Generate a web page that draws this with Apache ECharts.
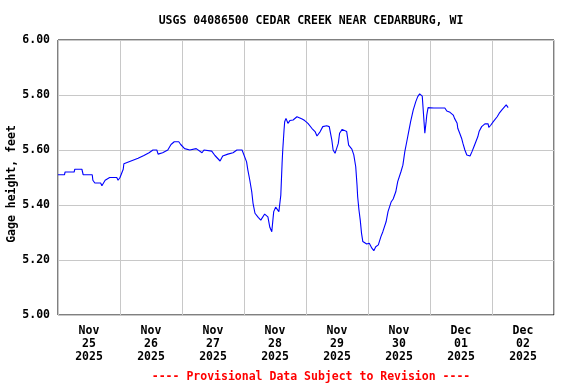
<!DOCTYPE html>
<html>
<head>
<meta charset="utf-8">
<script src="https://cdn.jsdelivr.net/npm/echarts@6/dist/echarts.min.js"></script>
<style>html,body{margin:0;padding:0;background:#fff}#c{width:576px;height:384px}</style>
</head>
<body>
<div id="c"></div>
<script>
// Hours since 2025-11-25 00:00 (local) and gage height in feet
const hours = [0,2.5,2.75,6.25,6.5,9.25,9.75,13.25,13.5,14.25,16.5,17,18.25,20,22.75,23.25,24,25.25,25.5,28.25,31,33.25,35.25,36.75,38.25,38.75,39.5,40.5,42.5,43.75,45,46.75,47.5,49,51,53.5,55.75,56.5,59.5,60.75,62.75,63.75,65.75,67.75,69.25,71.25,72,73,73.5,74.25,75,75.5,76.25,77.5,78.5,80,81.25,82,82.75,83.5,84.25,85.5,86.25,86.75,87,87.5,87.75,88.25,89,89.75,91,92.5,93.25,94.5,95.5,96.75,98.25,99.5,100.25,101.5,102.5,104,105,106,106.5,107.25,108,108.5,109,110,110.75,111.75,112.5,113.75,114.5,115.25,115.75,116,116.5,117,117.5,118,119.5,120.5,121.5,122.25,123,124,125,125.75,127,127.75,129,129.75,130.75,131.5,132.75,133.5,134.25,135,135.75,136.5,137.5,138.5,139.25,140,141,141.75,142,142.5,142.75,143.25,144,145.5,146,149.75,150.25,150.5,151.75,153,153.5,154.5,154.75,155.5,156.25,156.75,157.5,158.25,159.5,160.25,161,161.75,162.5,163,164,165.25,166.5,166.75,167.5,168.5,169,170,170.75,171.75,172.5,173.5,173.75,174.25];
const gage = [5.51,5.51,5.52,5.52,5.53,5.53,5.51,5.51,5.49,5.48,5.48,5.47,5.49,5.50,5.50,5.49,5.50,5.53,5.55,5.56,5.57,5.58,5.59,5.60,5.60,5.585,5.59,5.59,5.60,5.62,5.63,5.63,5.62,5.605,5.60,5.605,5.59,5.60,5.596,5.58,5.56,5.578,5.585,5.59,5.60,5.60,5.594,5.557,5.527,5.49,5.448,5.406,5.37,5.355,5.345,5.367,5.357,5.319,5.303,5.376,5.392,5.376,5.436,5.553,5.60,5.673,5.703,5.715,5.697,5.707,5.709,5.721,5.727,5.713,5.707,5.697,5.679,5.667,5.651,5.667,5.685,5.688,5.685,5.636,5.60,5.588,5.59,5.624,5.661,5.675,5.679,5.667,5.618,5.603,5.582,5.539,5.473,5.43,5.382,5.345,5.297,5.267,5.258,5.261,5.243,5.234,5.248,5.255,5.285,5.303,5.339,5.376,5.412,5.422,5.448,5.485,5.521,5.545,5.594,5.63,5.667,5.703,5.745,5.776,5.794,5.804,5.796,5.796,5.661,5.703,5.727,5.754,5.749,5.753,5.749,5.753,5.749,5.742,5.737,5.727,5.715,5.697,5.679,5.661,5.642,5.624,5.60,5.582,5.578,5.594,5.612,5.63,5.648,5.667,5.685,5.695,5.695,5.682,5.69,5.703,5.709,5.721,5.733,5.745,5.749,5.764,5.758,5.754];
const dayLabels = ["Nov\n25\n2025","Nov\n26\n2025","Nov\n27\n2025","Nov\n28\n2025","Nov\n29\n2025","Nov\n30\n2025","Dec\n01\n2025","Dec\n02\n2025"];
const titleText = "USGS 04086500 CEDAR CREEK NEAR CEDARBURG, WI";
const yTitle = "Gage height, feet";
const footer = "---- Provisional Data Subject to Revision ----";

const FONT = "DejaVu Sans Mono";
const chart = echarts.init(document.getElementById('c'), null, {renderer: 'canvas'});
chart.setOption({
  animation: false,
  backgroundColor: '#ffffff',
  title: [
    {text: titleText, left: 306, top: 10, textAlign: 'center',
     textStyle: {fontFamily: FONT, fontSize: 11.5, fontWeight: 'bold', color: '#000'}},
    {text: footer, left: 306, top: 366, textAlign: 'center',
     textStyle: {fontFamily: FONT, fontSize: 11.5, fontWeight: 'bold', color: '#ff0000'}}
  ],
  graphic: [{
    type: 'text', x: 12, y: 184, rotation: Math.PI / 2,
    style: {text: yTitle, align: 'center', verticalAlign: 'middle',
            font: 'bold 11.5px "DejaVu Sans Mono"', fill: '#000'}
  }],
  grid: {left: 58, top: 40, right: 22, bottom: 69, show: true, borderColor: '#000', borderWidth: 1,
         backgroundColor: 'transparent', containLabel: false, outerBoundsMode: 'none'},
  xAxis: [
    {type: 'value', min: 0, max: 192, interval: 24,
     axisLine: {show: false}, axisTick: {show: false}, axisLabel: {show: false},
     splitLine: {show: true, lineStyle: {color: '#c8c8c8', width: 1}}},
    {type: 'category', data: dayLabels, boundaryGap: true, position: 'bottom',
     axisLine: {show: false}, axisTick: {show: false}, splitLine: {show: false},
     axisLabel: {fontFamily: FONT, fontSize: 11.5, fontWeight: 'bold', color: '#000', lineHeight: 13, margin: 10, interval: 0}}
  ],
  yAxis: {type: 'value', min: 5, max: 6, interval: 0.2,
    axisLine: {show: false}, axisTick: {show: false},
    axisLabel: {fontFamily: FONT, fontSize: 11.5, fontWeight: 'bold', color: '#000', margin: 8,
      formatter: v => v.toFixed(2)},
    splitLine: {show: true, lineStyle: {color: '#c8c8c8', width: 1}}},
  series: [{
    type: 'line', xAxisIndex: 0, yAxisIndex: 0,
    data: hours.map((h, i) => [h, gage[i]]),
    showSymbol: false, symbol: 'none', smooth: false,
    lineStyle: {color: '#0000ff', width: 1.1},
    z: 5
  }]
});
</script>
</body>
</html>
